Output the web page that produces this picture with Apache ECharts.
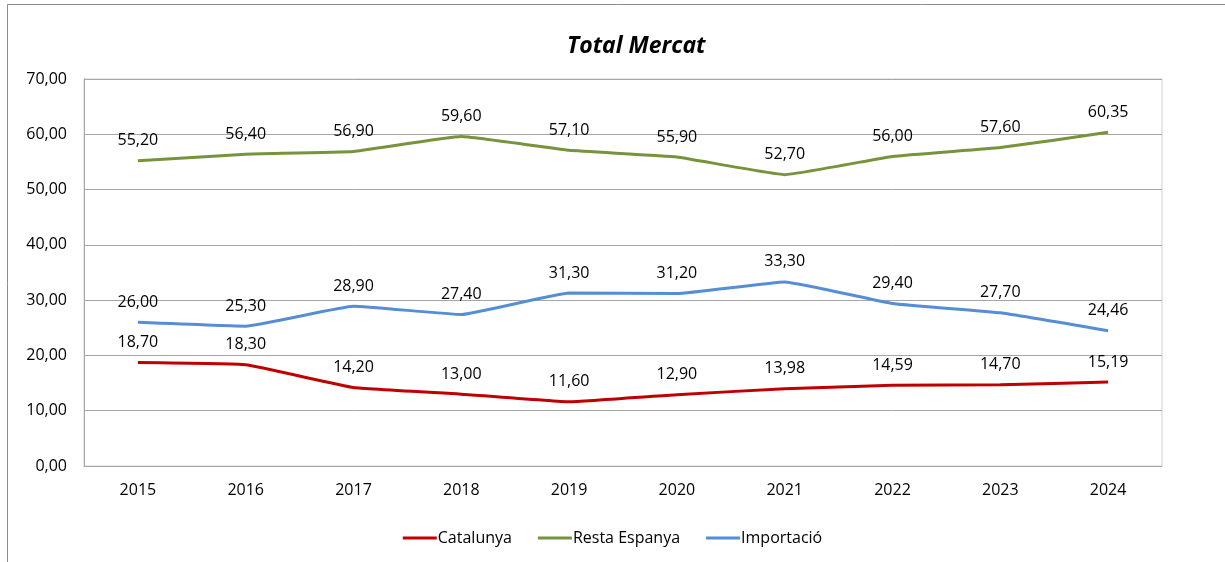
<!DOCTYPE html>
<html>
<head>
<meta charset="utf-8">
<script src="https://cdn.jsdelivr.net/npm/echarts@6/dist/echarts.min.js"></script>
<style>
  html, body { margin: 0; padding: 0; background: #fff; }
</style>
</head>
<body>
<div id="chart" style="width:1225px;height:562px"></div>
<script>
const years = ['2015', '2016', '2017', '2018', '2019', '2020', '2021', '2022', '2023', '2024']
const catalunya = [18.7, 18.3, 14.2, 13.0, 11.6, 12.9, 13.98, 14.59, 14.7, 15.19]
const restaEspanya = [55.2, 56.4, 56.9, 59.6, 57.1, 55.9, 52.7, 56.0, 57.6, 60.35]
const importacio = [26.0, 25.3, 28.9, 27.4, 31.3, 31.2, 33.3, 29.4, 27.7, 24.46]

const FONT = 'Open Sans'
const fmt = (v) => Number(v).toFixed(2).replace('.', ',')

function makeSeries(name, data, color) {
  return {
    name: name,
    type: 'line',
    data: data,
    smooth: 0.1,
    symbol: 'circle',
    symbolSize: 0,
    showSymbol: true,
    lineStyle: { width: 3, color: color },
    itemStyle: { color: color },
    label: {
      show: true,
      position: 'top',
      distance: 12,
      color: '#000',
      fontFamily: FONT,
      fontSize: 16,
      formatter: (p) => fmt(p.value),
    },
  }
}

const chart = echarts.init(document.getElementById('chart'))
chart.setOption({
  animation: false,
  title: {
    text: 'Total Mercat',
    left: 562,
    top: 30,
    textStyle: {
      fontFamily: FONT,
      fontSize: 23,
      fontWeight: 'bold',
      fontStyle: 'italic',
      color: '#000',
    },
  },
  graphic: [
    {
      type: 'rect',
      shape: { x: 7.5, y: 4.5, width: 1300, height: 700 },
      style: { fill: 'none', stroke: '#8c8c8c', lineWidth: 1 },
      silent: true,
    },
  ],
  legend: {
    bottom: 11,
    left: 'center',
    itemWidth: 34,
    itemHeight: 3,
    itemGap: 26,
    icon: 'rect',
    textStyle: { fontFamily: FONT, fontSize: 16, color: '#000', padding: [0, 0, 0, -4] },
    data: ['Catalunya', 'Resta Espanya', 'Importació'],
  },
  grid: {
    left: 84,
    right: 63,
    top: 79,
    bottom: 96,
    show: true,
    borderColor: '#d0d0d0',
    borderWidth: 1,
  },
  xAxis: {
    type: 'category',
    data: years,
    boundaryGap: true,
    axisLine: { show: true, lineStyle: { color: '#a6a6a6', width: 1 } },
    axisTick: { show: false },
    axisLabel: { color: '#000', fontFamily: FONT, fontSize: 16, margin: 16 },
  },
  yAxis: {
    type: 'value',
    min: 0,
    max: 70,
    interval: 10,
    axisLine: { show: true, lineStyle: { color: '#a6a6a6', width: 1 } },
    axisTick: { show: false },
    splitLine: { lineStyle: { color: '#a6a6a6', width: 1 } },
    axisLabel: {
      color: '#000',
      fontFamily: FONT,
      fontSize: 16,
      margin: 17,
      formatter: (v) => fmt(v),
    },
  },
  series: [
    makeSeries('Catalunya', catalunya, '#C00000'),
    makeSeries('Resta Espanya', restaEspanya, '#77933C'),
    makeSeries('Importació', importacio, '#558ED5'),
  ],
})
</script>
</body>
</html>
